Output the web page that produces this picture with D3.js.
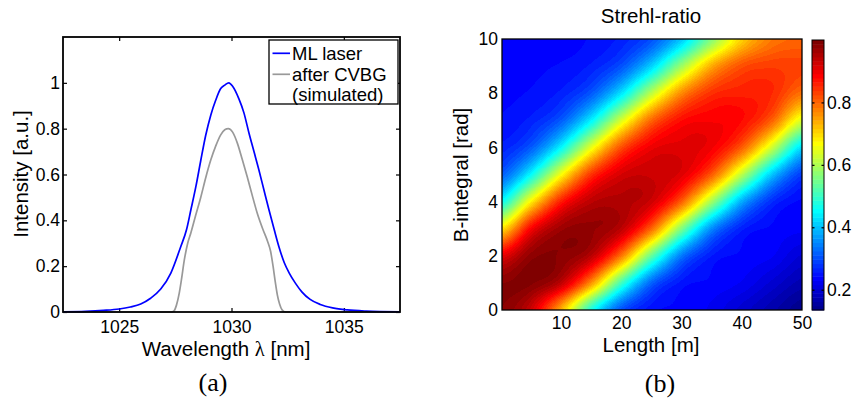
<!DOCTYPE html>
<html><head><meta charset="utf-8">
<script src="https://cdn.jsdelivr.net/npm/d3@7"></script>
<style>
html,body{margin:0;padding:0;background:#fff;}
svg text{font-family:"Liberation Sans",Arial,sans-serif;fill:#000;}
</style></head><body>
<svg id="fig" width="852" height="403"></svg>
<script>
// ---- (a) spectra ----
const mlWavelength = [1022.5,1023.5,1024.3,1025.0,1025.5,1025.96,1026.4,1026.85,1027.3,1027.74,1028.0,1028.19,1028.42,1028.63,1028.85,1029.08,1029.3,1029.52,1029.7,1029.88,1030.05,1030.33,1030.55,1030.78,1031.0,1031.22,1031.45,1031.67,1031.9,1032.11,1032.35,1032.57,1032.85,1033.13,1033.5,1033.95,1034.5,1035.15,1036.0,1037.5];
const mlIntensity  = [0.001,0.003,0.007,0.013,0.022,0.035,0.06,0.10,0.17,0.285,0.36,0.445,0.55,0.66,0.77,0.86,0.925,0.975,0.99,1.0,0.985,0.93,0.87,0.78,0.70,0.62,0.53,0.445,0.36,0.285,0.215,0.17,0.125,0.088,0.055,0.033,0.018,0.009,0.004,0.001];
const cvbgWavelength = [1022.5,1027.3,1027.44,1027.55,1027.67,1027.77,1027.9,1028.05,1028.19,1028.4,1028.63,1028.85,1029.08,1029.3,1029.52,1029.7,1029.86,1030.05,1030.26,1030.48,1030.7,1030.92,1031.15,1031.4,1031.6,1031.74,1031.85,1031.95,1032.04,1032.14,1032.26,1032.4,1037.5];
const cvbgIntensity  = [0,0,0.005,0.03,0.08,0.14,0.227,0.30,0.345,0.42,0.50,0.585,0.664,0.725,0.773,0.795,0.80,0.785,0.737,0.665,0.59,0.51,0.43,0.36,0.31,0.265,0.20,0.13,0.075,0.035,0.008,0,0];
const spectrumXTicks = [1025,1030,1035];
const spectrumYTicks = [0,0.2,0.4,0.6,0.8,1];
const spectrumSeries = ["ML laser","after CVBG"];

// ---- (b) Strehl ratio map: rows are B-integral [rad], columns are length [m] ----
const lengthGrid = [0,5,10,15,20,25,30,35,40,45,50];
const bIntegralGrid = [0,1,2,3,4,5,6,7,8,9,10];
const strehl = [
  [0.988,0.928,0.736,0.477,0.304,0.248,0.240,0.226,0.197,0.167,0.138],
  [0.986,0.989,0.939,0.763,0.509,0.321,0.252,0.240,0.228,0.199,0.170],
  [0.903,0.979,0.984,0.943,0.785,0.538,0.339,0.257,0.240,0.231,0.201],
  [0.689,0.887,0.968,0.975,0.941,0.799,0.561,0.355,0.262,0.240,0.233],
  [0.456,0.678,0.863,0.942,0.950,0.925,0.805,0.590,0.383,0.273,0.240],
  [0.312,0.453,0.664,0.842,0.920,0.930,0.911,0.809,0.612,0.406,0.285],
  [0.261,0.312,0.448,0.649,0.820,0.899,0.910,0.895,0.808,0.629,0.426],
  [0.245,0.262,0.312,0.443,0.634,0.799,0.877,0.890,0.879,0.805,0.642],
  [0.240,0.245,0.261,0.310,0.431,0.611,0.768,0.846,0.860,0.852,0.789],
  [0.235,0.240,0.245,0.260,0.304,0.416,0.586,0.740,0.819,0.835,0.829],
  [0.235,0.235,0.235,0.245,0.261,0.302,0.408,0.565,0.707,0.783,0.800]
];
const lengthTicks = [10,20,30,40,50];
const bTicks = [0,2,4,6,8,10];
const colorbarTicks = [0.2,0.4,0.6,0.8];
const colorRange = [0.135,1.0];

const svg = d3.select("#fig");
svg.append("rect").attr("width",852).attr("height",403).attr("fill","#fff");

// ================= panel (a) =================
const xA = d3.scaleLinear().domain([1022.5,1037.5]).range([63,400]);
const yA = d3.scaleLinear().domain([0,1.2]).range([312,37]);
const gA = svg.append("g");

const tickFont = "17.5px";
function styleAxis(g, showText){
  g.select(".domain").remove();
  g.selectAll(".tick line").attr("stroke","#000").attr("stroke-width",1.2);
  if(showText) g.selectAll(".tick text").style("font-size",tickFont).attr("fill","#000");
  else g.selectAll(".tick text").remove();
}
gA.append("g").attr("transform","translate(0,312)")
  .call(d3.axisBottom(xA).tickValues(spectrumXTicks).tickSize(-4).tickPadding(9).tickFormat(d3.format("d")))
  .call(g=>styleAxis(g,true));
gA.append("g").attr("transform","translate(0,37)")
  .call(d3.axisTop(xA).tickValues(spectrumXTicks).tickSize(-4))
  .call(g=>styleAxis(g,false));
gA.append("g").attr("transform","translate(63,0)")
  .call(d3.axisLeft(yA).tickValues(spectrumYTicks).tickSize(-4).tickPadding(3).tickFormat(d=>d===0?"0":(d===1?"1":d3.format(".1f")(d))))
  .call(g=>styleAxis(g,true));
gA.append("g").attr("transform","translate(400,0)")
  .call(d3.axisRight(yA).tickValues(spectrumYTicks).tickSize(-4))
  .call(g=>styleAxis(g,false));

const lineA = d3.line().x(d=>xA(d[0])).y(d=>yA(d[1])).curve(d3.curveMonotoneX);
gA.append("path").datum(d3.zip(cvbgWavelength,cvbgIntensity))
  .attr("d",lineA).attr("fill","none").attr("stroke","#999999").attr("stroke-width",1.7);
gA.append("path").datum(d3.zip(mlWavelength,mlIntensity))
  .attr("d",lineA).attr("fill","none").attr("stroke","#0000ff").attr("stroke-width",1.7);

gA.append("rect").attr("x",63).attr("y",37).attr("width",337).attr("height",275)
  .attr("fill","none").attr("stroke","#000").attr("stroke-width",1.8);

// legend
const leg = gA.append("g");
leg.append("rect").attr("x",269).attr("y",40).attr("width",129).attr("height",64)
  .attr("fill","#fff").attr("stroke","#000").attr("stroke-width",1.3);
leg.append("line").attr("x1",272.5).attr("x2",290).attr("y1",53.3).attr("y2",53.3).attr("stroke","#0000ff").attr("stroke-width",1.7);
leg.append("line").attr("x1",272.5).attr("x2",290).attr("y1",74.3).attr("y2",74.3).attr("stroke","#999999").attr("stroke-width",1.7);
leg.append("text").attr("x",292).attr("y",59.5).style("font-size","18.5px").text(spectrumSeries[0]);
leg.append("text").attr("x",292).attr("y",80.5).style("font-size","18.5px").text(spectrumSeries[1]);
leg.append("text").attr("x",292).attr("y",101).style("font-size","18.5px").text("(simulated)");

// axis labels
const xl = gA.append("text").attr("x",226).attr("y",356).attr("text-anchor","middle").style("font-size","20.5px");
xl.append("tspan").text("Wavelength ");
xl.append("tspan").style("font-family","'Liberation Serif',serif").text("λ");
xl.append("tspan").text(" [nm]");
gA.append("text").attr("transform","translate(28,174) rotate(-90)").attr("text-anchor","middle")
  .style("font-size","20.5px").text("Intensity [a.u.]");
svg.append("text").attr("x",213).attr("y",391).attr("text-anchor","middle")
  .style("font-family","'Liberation Serif',serif").style("font-size","26px").text("(a)");

// ================= panel (b) =================
const xB = d3.scaleLinear().domain([0.2,50]).range([502,802]);
const yB = d3.scaleLinear().domain([0,10]).range([310,39]);
const cScale = d3.scaleLinear().domain(colorRange).range([0,1]).clamp(true);

// MATLAB-style jet(64)
function jetColor(k){ // k: 1..64
  const u = i => i<1||i>47 ? 0 : (i<=16 ? i/16 : (i<=31 ? 1 : (48-i)/16));
  return [u(k-24),u(k-8),u(k+8)];
}
function colorIndex(v){ return Math.max(1,Math.min(64,Math.floor(cScale(v)*64)+1)); }

// smooth (Catmull-Rom) shading between grid nodes
function cr(p0,p1,p2,p3,t){
  return 0.5*((2*p1)+(-p0+p2)*t+(2*p0-5*p1+4*p2-p3)*t*t+(-p0+3*p1-3*p2+p3)*t*t*t);
}
const nL = lengthGrid.length, nB = bIntegralGrid.length;
const stepL = lengthGrid[1]-lengthGrid[0], stepB = bIntegralGrid[1]-bIntegralGrid[0];
function node(i,j){ i=Math.max(0,Math.min(nL-1,i)); j=Math.max(0,Math.min(nB-1,j)); return strehl[j][i]; }
function sample(L,B){
  const fx = (L-lengthGrid[0])/stepL, fy = (B-bIntegralGrid[0])/stepB;
  const ix = Math.floor(fx), iy = Math.floor(fy), tx = fx-ix, ty = fy-iy;
  const rows = [];
  for(let dj=-1;dj<=2;dj++){
    rows.push(cr(node(ix-1,iy+dj),node(ix,iy+dj),node(ix+1,iy+dj),node(ix+2,iy+dj),tx));
  }
  return cr(rows[0],rows[1],rows[2],rows[3],ty);
}

const x0 = 502, x1 = 802, y0 = 39, y1 = 310;
const W = x1-x0, H = y1-y0;
const cv = document.createElement("canvas"); cv.width = W; cv.height = H;
const ctx = cv.getContext("2d");
const img = ctx.createImageData(W,H);
for(let py=0;py<H;py++){
  const B = yB.invert(y0+py+0.5);
  for(let px=0;px<W;px++){
    const L = xB.invert(x0+px+0.5);
    const c = jetColor(colorIndex(sample(L,B)));
    const o = 4*(py*W+px);
    img.data[o]=Math.round(c[0]*255); img.data[o+1]=Math.round(c[1]*255); img.data[o+2]=Math.round(c[2]*255); img.data[o+3]=255;
  }
}
ctx.putImageData(img,0,0);
const gB = svg.append("g");
gB.append("image").attr("x",x0).attr("y",y0).attr("width",W).attr("height",H)
  .attr("preserveAspectRatio","none").attr("href",cv.toDataURL());
gB.append("rect").attr("x",x0).attr("y",y0).attr("width",W).attr("height",H)
  .attr("fill","none").attr("stroke","#000").attr("stroke-width",1.3);

gB.append("g").attr("transform",`translate(0,${y1})`)
  .call(d3.axisBottom(xB).tickValues(lengthTicks).tickSize(0).tickPadding(7).tickFormat(d3.format("d")))
  .call(g=>styleAxis(g,true));
gB.append("g").attr("transform",`translate(${x0},0)`)
  .call(d3.axisLeft(yB).tickValues(bTicks).tickSize(0).tickPadding(4).tickFormat(d3.format("d")))
  .call(g=>styleAxis(g,true));

gB.append("text").attr("x",651).attr("y",352).attr("text-anchor","middle").style("font-size","20.5px").text("Length [m]");
gB.append("text").attr("transform","translate(468,175) rotate(-90)").attr("text-anchor","middle")
  .style("font-size","20.5px").text("B-integral [rad]");
gB.append("text").attr("x",651).attr("y",22.5).attr("text-anchor","middle").style("font-size","20.5px").text("Strehl-ratio");
svg.append("text").attr("x",660).attr("y",392).attr("text-anchor","middle")
  .style("font-family","'Liberation Serif',serif").style("font-size","26px").text("(b)");

// colorbar
const cbX = 812, cbW = 12;
const yC = d3.scaleLinear().domain(colorRange).range([310,40]);
const levels = d3.range(1,65);
const cb = svg.append("g");
cb.selectAll("rect.lv").data(levels).join("rect").attr("class","lv")
  .attr("x",cbX).attr("width",cbW)
  .attr("y",k=>yC(colorRange[0]+(colorRange[1]-colorRange[0])*k/64))
  .attr("height",(yC.range()[0]-yC.range()[1])/64+0.5)
  .attr("fill",k=>{const c=jetColor(k);return d3.rgb(c[0]*255,c[1]*255,c[2]*255);});
cb.append("rect").attr("x",cbX).attr("y",40).attr("width",cbW).attr("height",270)
  .attr("fill","none").attr("stroke","#000").attr("stroke-width",1);
cb.append("g").attr("transform",`translate(${cbX+cbW},0)`)
  .call(d3.axisRight(yC).tickValues(colorbarTicks).tickSize(-2.5).tickPadding(3).tickFormat(d3.format(".1f")))
  .call(g=>styleAxis(g,true));
cb.append("g").attr("transform",`translate(${cbX},0)`)
  .call(d3.axisLeft(yC).tickValues(colorbarTicks).tickSize(-2.5))
  .call(g=>styleAxis(g,false));
</script>
</body></html>
